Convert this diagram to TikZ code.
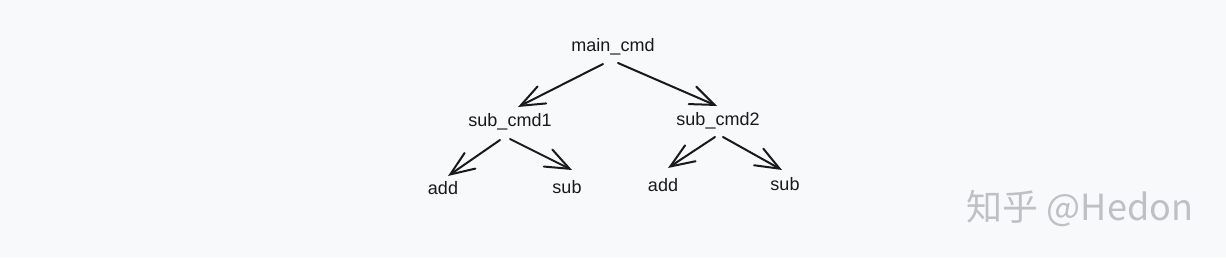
\documentclass[tikz,border=0pt]{standalone}
\usepackage{fontspec}
\setmainfont{Liberation Sans}
\newfontfamily\cjkfont{Noto Sans CJK SC}
\usepackage{tikz}
\usetikzlibrary{arrows.meta,calc}
\definecolor{PageGray}{RGB}{248,249,250}
\definecolor{InkBlack}{RGB}{25,25,25}
\definecolor{MarkGray}{RGB}{190,192,196}

\begin{document}
\begin{tikzpicture}[x=0.5pt,y=-0.5pt,
    every node/.style={font=\fontsize{9}{11}\selectfont,text=InkBlack,inner sep=0pt},
    link/.style={-{Straight Barb[length=12pt,width=9.5pt,line cap=round]},line width=1pt,line cap=round,InkBlack}]
        \fill[PageGray] (0,0) rectangle (1226,257);
        \node (main) at (613,47) {main\_cmd};
        \node (sub1) at (510,122) {sub\_cmd1};
        \node (sub2) at (718,121) {sub\_cmd2};
        \node (add1) at (443,188) {add};
        \node (subA) at (567,187) {sub};
        \node (add2) at (663,185) {add};
        \node (subB) at (785,184) {sub};
        \node[font=\cjkfont\fontsize{18}{21}\selectfont,text=MarkGray] (mark) at (1080,208) {知乎 @Hedon};
        \draw[link] ($(main)+(-10,17)$) -- ($(sub1)+(8,-15)$);
        \draw[link] ($(main)+(5,16)$) -- ($(sub2)+(-1,-15)$);
        \draw[link] ($(sub1)+(-10,18)$) -- ($(add1)+(5,-12)$);
        \draw[link] ($(sub1)+(0,17)$) -- ($(subA)+(5,-17)$);
        \draw[link] ($(sub2)+(-3,16)$) -- ($(add2)+(5,-17)$);
        \draw[link] ($(sub2)+(5,16)$) -- ($(subB)+(-3,-14)$);
      \end{tikzpicture}
\end{document}
